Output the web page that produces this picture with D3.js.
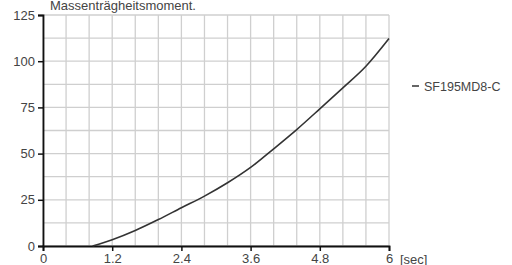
<!DOCTYPE html>
<html>
<head>
<meta charset="utf-8">
<title>Massenträgheitsmoment</title>
<script src="https://cdn.jsdelivr.net/npm/d3@7"></script>
<style>
  body { margin: 0; background: #fff; }
  svg text { font-family: "Liberation Sans", Arial, sans-serif; fill: #444; }
</style>
</head>
<body>
<svg id="chart" width="512" height="265"></svg>
<script>
// data
const seriesName = "SF195MD8-C";
const time = [0.86, 1.2, 1.6, 2.0, 2.4, 2.8, 3.2, 3.6, 4.0, 4.4, 4.8, 5.2, 5.6, 6.0];
const inertia = [0, 3.4, 8.4, 14.3, 20.7, 27.0, 34.2, 42.5, 52.6, 63.0, 74.2, 85.6, 97.3, 112.3];
const xTicks = [0, 1.2, 2.4, 3.6, 4.8, 6];
const yTicks = [0, 25, 50, 75, 100, 125];
const xGrid = d3.range(0, 6.001, 0.4);
const yGrid = d3.range(0, 125.1, 12.5);

const svg = d3.select("#chart");

const x = d3.scaleLinear().domain([0, 6]).range([43, 389]);
const y = d3.scaleLinear().domain([0, 125]).range([246, 15]);

// grid
svg.append("g").selectAll("line").data(xGrid).enter().append("line")
  .attr("x1", d => x(d)).attr("x2", d => x(d))
  .attr("y1", y(125)).attr("y2", y(0))
  .attr("stroke", "#cfcfcf").attr("stroke-width", 1.3);
svg.append("g").selectAll("line").data(yGrid).enter().append("line")
  .attr("x1", x(0)).attr("x2", x(6))
  .attr("y1", d => y(d)).attr("y2", d => y(d))
  .attr("stroke", "#cfcfcf").attr("stroke-width", 1.3);

// axes
const xAxis = svg.append("g")
  .attr("transform", "translate(0," + y(0) + ")")
  .call(d3.axisBottom(x).tickValues(xTicks).tickSize(5).tickPadding(3)
    .tickFormat(d3.format("~g")));
const yAxis = svg.append("g")
  .attr("transform", "translate(" + x(0) + ",0)")
  .call(d3.axisLeft(y).tickValues(yTicks).tickSize(5).tickPadding(3));

[xAxis, yAxis].forEach(a => {
  a.select(".domain").attr("stroke", "#111").attr("stroke-width", 1.8);
  a.selectAll(".tick line").attr("stroke", "#111").attr("stroke-width", 1.5);
  a.selectAll("text").attr("font-size", 13).style("fill", "#444")
    .attr("font-family", "Liberation Sans, Arial, sans-serif");
});

// curve
const line = d3.line()
  .x((d, i) => x(time[i]))
  .y(d => y(d))
  .curve(d3.curveMonotoneX);
svg.append("path")
  .datum(inertia)
  .attr("fill", "none")
  .attr("stroke", "#333")
  .attr("stroke-width", 1.6)
  .attr("d", line);

// title
svg.append("text")
  .attr("x", 50).attr("y", 10)
  .attr("font-size", 13)
  .text("Massenträgheitsmoment.");

// unit label
svg.append("text")
  .attr("x", 400).attr("y", 264)
  .attr("font-size", 13)
  .text("[sec]");

// legend
svg.append("line")
  .attr("x1", 412).attr("x2", 419)
  .attr("y1", 86).attr("y2", 86)
  .attr("stroke", "#333").attr("stroke-width", 1.5);
svg.append("text")
  .attr("x", 424).attr("y", 90.5)
  .attr("font-size", 12.5)
  .text(seriesName);
</script>
</body>
</html>
